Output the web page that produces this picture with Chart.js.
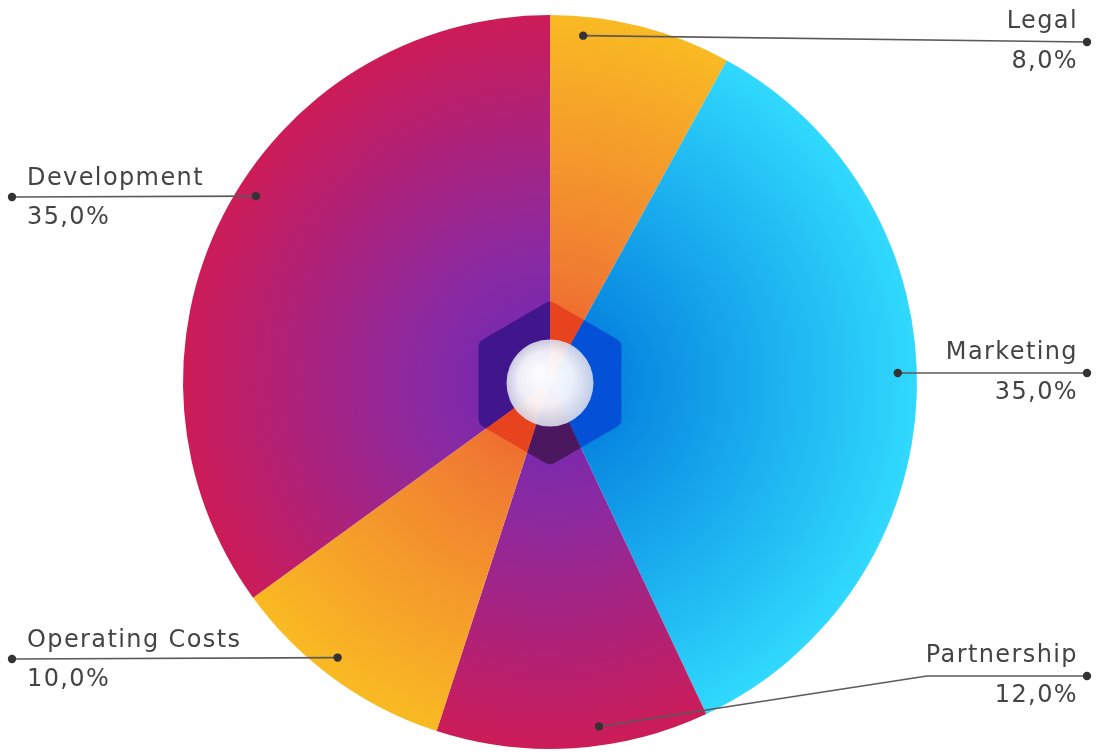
<!DOCTYPE html>
<html>
<head>
<meta charset="utf-8">
<script src="https://cdn.jsdelivr.net/npm/chart.js@4.4.0/dist/chart.umd.min.js"></script>
<style>
  html, body { margin: 0; padding: 0; background: #fff; }
  #wrap { width: 1097px; height: 754px; }
</style>
</head>
<body>
<div id="wrap"><canvas id="chart" width="1097" height="754"></canvas></div>
<script>
// budget split
const categories = ['Legal', 'Marketing', 'Partnership', 'Operating Costs', 'Development'];
const shares = [8, 35, 12, 10, 35];
const shareLabels = shares.map(v => v.toFixed(1).replace('.', ',') + '%');

// radial gradient stops per slice (center -> rim)
const sliceStops = [
  [[0, '#ec552b'], [0.3, '#f07c32'], [1, '#f9ba23']],
  [[0, '#0068da'], [0.25, '#0a8ce2'], [1, '#30d9fd']],
  [[0, '#6a28b6'], [0.35, '#8a2aa2'], [1, '#cc1c57']],
  [[0, '#ec552b'], [0.3, '#f07c32'], [1, '#f9ba23']],
  [[0, '#6a28b6'], [0.35, '#8a2aa2'], [1, '#cc1c57']]
];
// colour of the hexagon core where it overlaps each slice
const coreColors = ['#e8431f', '#0450d6', '#4b1860', '#e6431e', '#41168c'];

// where the leader dot sits inside each slice (fraction of angle) and where the line ends
const callouts = [
  { frac: 0.19, path: [[1087, 42]], side: 'right' },
  { frac: 0.474, path: [[1087, 373]], side: 'right' },
  { frac: 0.396, path: [[927, 676], [1087, 676]], side: 'right' },
  { frac: 0.545, path: [[12, 659]], side: 'left' },
  { frac: 0.542, path: [[12, 197]], side: 'left' }
];

function sliceGradient(ctx) {
  const chart = ctx.chart;
  const a = chart.chartArea;
  const stops = sliceStops[ctx.dataIndex];
  if (!a) return stops[stops.length - 1][1];
  const cx = (a.left + a.right) / 2, cy = (a.top + a.bottom) / 2;
  const r = Math.min(a.right - a.left, a.bottom - a.top) / 2;
  const g = chart.ctx.createRadialGradient(cx, cy, 0, cx, cy, r);
  stops.forEach(s => g.addColorStop(s[0], s[1]));
  return g;
}

function hexPath(c, cx, cy, R, rr) {
  const pts = [];
  for (let i = 0; i < 6; i++) {
    const ang = -Math.PI / 2 + i * Math.PI / 3;
    pts.push([cx + R * Math.cos(ang), cy + R * Math.sin(ang)]);
  }
  c.beginPath();
  const m = [(pts[0][0] + pts[5][0]) / 2, (pts[0][1] + pts[5][1]) / 2];
  c.moveTo(m[0], m[1]);
  for (let i = 0; i < 6; i++) {
    const p = pts[i], n = pts[(i + 1) % 6];
    c.arcTo(p[0], p[1], n[0], n[1], rr);
  }
  c.closePath();
}

const decorPlugin = {
  id: 'decor',
  afterDatasetsDraw(chart) {
    const c = chart.ctx;
    const arcs = chart.getDatasetMeta(0).data;
    if (!arcs.length) return;
    const cx = arcs[0].x, cy = arcs[0].y + 1;
    const outer = arcs[0].outerRadius;

    // hexagon core, tinted per slice
    arcs.forEach((arc, i) => {
      c.save();
      c.beginPath();
      c.moveTo(arc.x, arc.y);
      c.arc(arc.x, arc.y, outer, arc.startAngle, arc.endAngle);
      c.closePath();
      c.clip();
      hexPath(c, cx, cy, 82.5, 9);
      c.fillStyle = coreColors[i];
      c.fill();
      c.restore();
    });

    // glossy sphere
    c.save();
    const sg = c.createRadialGradient(cx - 12, cy - 10, 2, cx, cy, 44);
    sg.addColorStop(0, 'rgba(255,255,255,0.99)');
    sg.addColorStop(0.6, 'rgba(250,250,253,0.94)');
    sg.addColorStop(1, 'rgba(214,217,232,0.9)');
    c.beginPath();
    c.arc(cx, cy, 43.5, 0, Math.PI * 2);
    c.fillStyle = sg;
    c.fill();
    c.restore();

    // leader lines, dots and labels
    c.save();
    c.font = '24px "DejaVu Sans"';
    if ('letterSpacing' in c) c.letterSpacing = '1.4px';
    arcs.forEach((arc, i) => {
      const co = callouts[i];
      const ang = arc.startAngle + co.frac * (arc.endAngle - arc.startAngle);
      const r = outer * 0.948;
      const dx = arc.x + r * Math.cos(ang), dy = arc.y + r * Math.sin(ang);
      const end = co.path[co.path.length - 1];

      c.strokeStyle = '#5a5a5a';
      c.lineWidth = 1.6;
      c.beginPath();
      c.moveTo(dx, dy);
      co.path.forEach(p => c.lineTo(p[0], p[1]));
      c.stroke();

      c.fillStyle = '#333';
      [[dx, dy], end].forEach(p => {
        c.beginPath();
        c.arc(p[0], p[1], 4.2, 0, Math.PI * 2);
        c.fill();
      });

      c.fillStyle = '#444';
      c.textBaseline = 'alphabetic';
      if (co.side === 'right') {
        c.textAlign = 'right';
        c.fillText(categories[i], end[0] - 9, end[1] - 14);
        c.fillText(shareLabels[i], end[0] - 9, end[1] + 26);
      } else {
        c.textAlign = 'left';
        c.fillText(categories[i], 27, end[1] - 12);
        c.fillText(shareLabels[i], 27, end[1] + 27);
      }
    });
    c.restore();
  }
};

new Chart(document.getElementById('chart'), {
  type: 'pie',
  data: {
    labels: categories,
    datasets: [{
      data: shares,
      backgroundColor: sliceGradient,
      borderWidth: 0
    }]
  },
  options: {
    responsive: false,
    animation: false,
    layout: { padding: { left: 183, right: 180, top: 15, bottom: 5 } },
    plugins: {
      legend: { display: false },
      tooltip: { enabled: false }
    }
  },
  plugins: [decorPlugin]
});
</script>
</body>
</html>
